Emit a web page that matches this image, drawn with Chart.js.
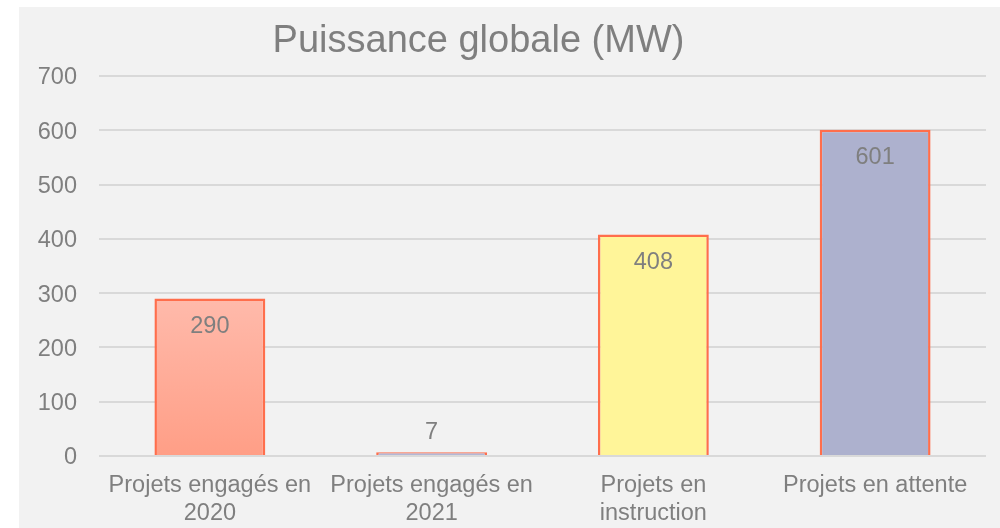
<!DOCTYPE html>
<html>
<head>
<meta charset="utf-8">
<script src="https://cdn.jsdelivr.net/npm/chart.js@4"></script>
<style>
  html, body { margin: 0; padding: 0; background: #ffffff; width: 1000px; height: 528px; overflow: hidden; }
  #box { position: absolute; left: 19px; top: 7px; width: 981px; height: 521px; background: #f2f2f2; }
  #title { position: absolute; left: 0; width: 919px; top: 10px; text-align: center;
           font-family: "Liberation Sans", Arial, sans-serif; font-size: 38px; color: #7f7f7f; line-height: 44px; }
  canvas { position: absolute; left: 0; top: 0; }
</style>
</head>
<body>
<div id="box">
  <canvas id="c" width="981" height="521"></canvas>
  <div id="title">Puissance globale (MW)</div>
</div>
<script>
const categories = [["Projets engagés en", "2020"], ["Projets engagés en", "2021"], ["Projets en", "instruction"], "Projets en attente"];
const values = [290, 7, 408, 601];
const yTicks = [0, 100, 200, 300, 400, 500, 600, 700];
const fillColors = ["gradient", "#b3b7d6", "#fff599", "#adb1ce"];

const FONT = "'Liberation Sans', Arial, sans-serif";
const TEXT = "#7f7f7f";

const valueLabels = {
  id: 'valueLabels',
  afterDatasetsDraw(chart) {
    const ctx = chart.ctx;
    const meta = chart.getDatasetMeta(0);
    ctx.save();
    ctx.fillStyle = TEXT;
    ctx.font = "23.5px " + FONT;
    ctx.textAlign = 'center';
    ctx.textBaseline = 'middle';
    meta.data.forEach((bar, i) => {
      const h = bar.base - bar.y;
      const y = h > 45 ? bar.y + 28 : bar.y - 20;
      ctx.fillText(String(values[i]), bar.x, y);
    });
    ctx.restore();
  }
};

new Chart(document.getElementById('c'), {
  type: 'bar',
  data: {
    labels: categories,
    datasets: [{
      data: values,
      backgroundColor: (context) => {
        const i = context.dataIndex;
        const c = fillColors[i];
        if (c !== 'gradient') return c;
        const chart = context.chart;
        if (!chart.chartArea) return '#ffad98';
        const ys = chart.scales.y;
        const g = chart.ctx.createLinearGradient(0, ys.getPixelForValue(values[i]), 0, ys.getPixelForValue(0));
        g.addColorStop(0, '#ffbaab');
        g.addColorStop(1, '#ff9e86');
        return g;
      },
      borderColor: '#ff6e4c',
      borderWidth: 2.5,
      barPercentage: 0.5,
      categoryPercentage: 1.0
    }]
  },
  options: {
    responsive: false,
    animation: false,
    layout: { padding: { top: 69, right: 14, bottom: 0, left: 0 } },
    plugins: {
      legend: { display: false },
      title: { display: false },
      tooltip: { enabled: false }
    },
    scales: {
      x: {
        afterFit(scale) { scale.height = 72; },
        grid: { display: false, drawTicks: false },
        border: { display: false },
        ticks: {
          color: TEXT,
          font: { family: FONT, size: 23.5, lineHeight: '28px' },
          padding: 16,
          maxRotation: 0,
          autoSkip: false
        }
      },
      y: {
        min: 0,
        max: 700,
        afterBuildTicks(scale) { scale.ticks = yTicks.map(v => ({ value: v })); },
        afterFit(scale) { scale.width = 80; },
        grid: { color: '#d9d9d9', lineWidth: 2, drawTicks: false },
        border: { display: false },
        ticks: {
          color: TEXT,
          font: { family: FONT, size: 23.5 },
          padding: 22,
          labelOffset: 2
        }
      }
    }
  },
  plugins: [valueLabels]
});
</script>
</body>
</html>
